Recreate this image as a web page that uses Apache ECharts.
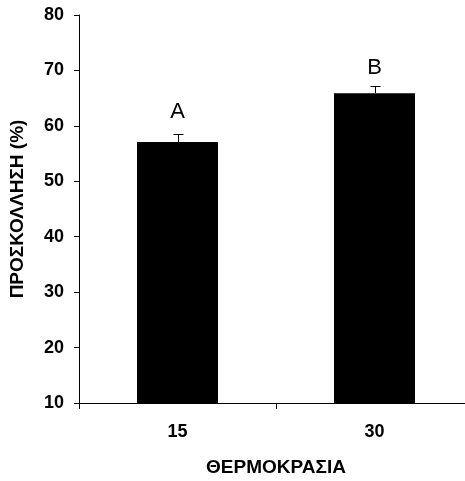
<!DOCTYPE html>
<html><head><meta charset="utf-8">
<script src="https://cdn.jsdelivr.net/npm/echarts@6/dist/echarts.min.js"></script>
<style>html,body{margin:0;padding:0;background:#fff}#c{width:465px;height:481px}</style>
</head><body><div id="c"></div>
<script>
var categories = ['15', '30'];
var values = [57.1, 65.9];
var errors = [1.4, 1.3];
var letters = ['A', 'B'];
var yTicks = [10, 20, 30, 40, 50, 60, 70, 80];

var font = '"Liberation Sans", Arial, sans-serif';
var chart = echarts.init(document.getElementById('c'), null, {renderer: 'canvas'});
chart.setOption({
  animation: false,
  grid: {left: 79, top: 15, bottom: 78, width: 394, containLabel: false, outerBoundsMode: 'none'},
  xAxis: {
    type: 'category', data: categories,
    name: 'ΘΕΡΜΟΚΡΑΣΙΑ', nameLocation: 'middle', nameGap: 55,
    nameTextStyle: {fontFamily: font, fontWeight: 'bold', fontSize: 19, color: '#000'},
    axisLine: {lineStyle: {color: '#000', width: 1}},
    axisTick: {show: true, length: 6, inside: false, lineStyle: {color: '#000'}},
    axisLabel: {fontFamily: font, fontWeight: 'bold', fontSize: 18, color: '#000', margin: 20}
  },
  yAxis: {
    type: 'value', min: yTicks[0], max: yTicks[yTicks.length - 1], interval: 10,
    name: 'ΠΡΟΣΚΟΛΛΗΣΗ (%)', nameLocation: 'middle', nameGap: 52, nameRotate: 90,
    nameTextStyle: {fontFamily: font, fontWeight: 'bold', fontSize: 19, color: '#000'},
    axisLine: {show: true, lineStyle: {color: '#000', width: 1}},
    axisTick: {show: true, length: 5, lineStyle: {color: '#000'}},
    splitLine: {show: false},
    axisLabel: {fontFamily: font, fontWeight: 'bold', fontSize: 18, color: '#000', margin: 15}
  },
  series: [
    {
      type: 'bar', data: values.map(function (v, i) {
        return {value: v, label: {distance: i === 0 ? 19 : 14}};
      }),
      barWidth: 81,
      itemStyle: {color: '#000'},
      label: {
        show: true, position: 'top', color: '#000', fontFamily: font, fontSize: 22,
        formatter: function (p) { return letters[p.dataIndex]; }
      },
      z: 2
    },
    {
      type: 'custom',
      data: values.map(function (v, i) { return [i, v, errors[i]]; }),
      renderItem: function (params, api) {
        var x = api.value(0), v = api.value(1), e = api.value(2);
        var top = api.coord([x, v + e]);
        var base = api.coord([x, v]);
        var cx = Math.round(top[0]) + 0.5;
        return {
          type: 'group', children: [
            {type: 'line', shape: {x1: cx, y1: base[1], x2: cx, y2: top[1]}, style: {stroke: '#000', lineWidth: 1}},
            {type: 'line', shape: {x1: cx - 5, y1: Math.round(top[1]) + 0.5, x2: cx + 5, y2: Math.round(top[1]) + 0.5}, style: {stroke: '#000', lineWidth: 1}}
          ]
        };
      },
      z: 3
    }
  ]
});
</script></body></html>
